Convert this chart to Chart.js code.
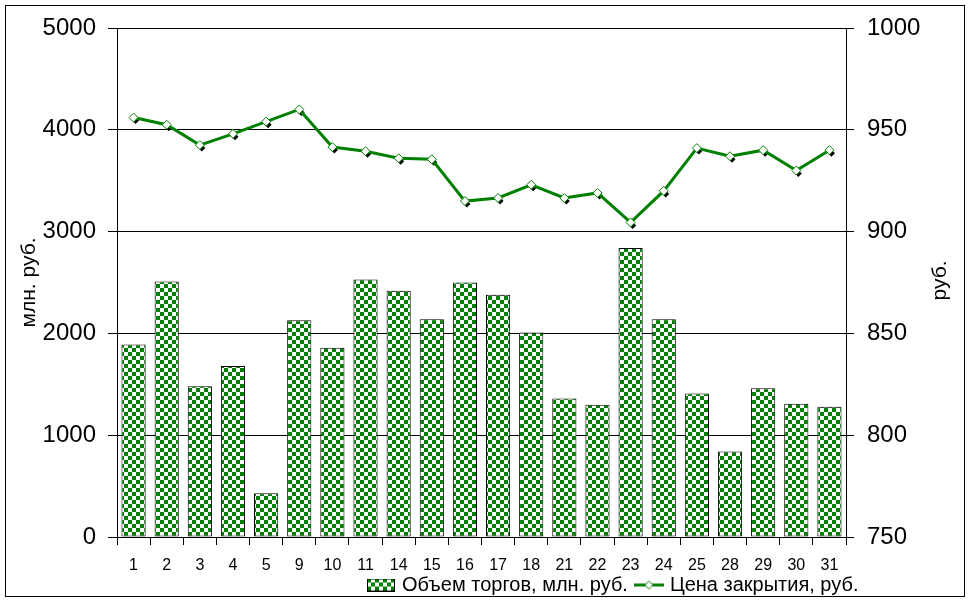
<!DOCTYPE html>
<html><head><meta charset="utf-8">
<script src="https://cdn.jsdelivr.net/npm/chart.js@4.4.1/dist/chart.umd.min.js"></script>
<style>html,body{margin:0;padding:0;background:#fff;} canvas{display:block;}</style>
</head><body><canvas id="c" width="970" height="602"></canvas>
<script>
const days = ['1','2','3','4','5','9','10','11','14','15','16','17','18','21','22','23','24','25','28','29','30','31'];
const volume = [1890,2510,1480,1680,430,2130,1860,2530,2420,2140,2500,2380,2010,1360,1300,2840,2140,1410,840,1460,1310,1280];
const closePrice = [956,952.5,942.5,948,954,960,941.5,939.5,936,935.5,915,916.5,923,916.5,919,904.5,920,941,937,940,930,940];
const volumeLabel = 'Объем торгов, млн. руб.';
const priceLabel = 'Цена закрытия, руб.';
const leftTitle = 'млн. руб.';
const rightTitle = 'руб.';

const GREEN = '#008000';
const FONT = "'Liberation Sans', Arial, sans-serif";

// checker pattern
const pc = document.createElement('canvas'); pc.width = 8; pc.height = 8;
const pctx = pc.getContext('2d');
pctx.fillStyle = '#fff'; pctx.fillRect(0,0,8,8);
pctx.fillStyle = GREEN; pctx.fillRect(0,0,4,4); pctx.fillRect(4,4,4,4);
const checker = document.getElementById('c').getContext('2d').createPattern(pc, 'repeat');

// legend icons
const barIcon = document.createElement('canvas'); barIcon.width = 28; barIcon.height = 13;
{ const g = barIcon.getContext('2d'); g.fillStyle = g.createPattern(pc,'repeat'); g.fillRect(0,0,28,13);
  g.strokeStyle = '#000'; g.lineWidth = 1; g.strokeRect(0.5,0.5,27,12); }
const lineIcon = document.createElement('canvas'); lineIcon.width = 30; lineIcon.height = 11;
{ const g = lineIcon.getContext('2d'); g.strokeStyle = GREEN; g.lineWidth = 3; g.beginPath(); g.moveTo(0,5.5); g.lineTo(30,5.5); g.stroke();
  g.lineWidth = 1; g.fillStyle = '#fff'; g.beginPath(); g.moveTo(15,1.5); g.lineTo(19,5.5); g.lineTo(15,9.5); g.lineTo(11,5.5); g.closePath(); g.fill(); g.stroke(); }

const framePlugin = {
  id: 'frame',
  beforeDraw(chart) {
    const ctx = chart.ctx; ctx.save();
    ctx.fillStyle = '#fff'; ctx.fillRect(0,0,chart.width,chart.height);
    ctx.strokeStyle = '#000'; ctx.lineWidth = 1; ctx.strokeRect(5.5,5.5,959,591);
    ctx.restore();
  },
  afterLayout(chart) {
    const lg = chart.legend; if (!lg) return;
    const w = lg.width;
    lg.left = 360; lg.right = 360 + w; lg.top = 565; lg.bottom = 565 + 40;
  },
  beforeDatasetDraw(chart, args) {
    if (chart.data.datasets[args.index].type !== 'line') return;
    const ctx = chart.ctx; ctx.save(); ctx.fillStyle = '#000';
    args.meta.data.forEach(p => {
      const x = p.x + 2, y = p.y + 3, r = 3.5;
      ctx.beginPath(); ctx.moveTo(x, y - r); ctx.lineTo(x + r, y); ctx.lineTo(x, y + r); ctx.lineTo(x - r, y); ctx.closePath(); ctx.fill();
    });
    ctx.restore();
  },
  afterDraw(chart) {
    const ca = chart.chartArea, ctx = chart.ctx;
    ctx.save();
    ctx.fillStyle = '#000'; ctx.font = '21px ' + FONT;
    ctx.textAlign = 'center'; ctx.textBaseline = 'middle';
    ctx.translate(940, (ca.top + ca.bottom) / 2 - 2);
    ctx.rotate(-Math.PI / 2);
    ctx.fillText(rightTitle, 0, 0);
    ctx.restore();
  }
};

Chart.defaults.font.family = FONT;
Chart.defaults.color = '#000';

new Chart(document.getElementById('c'), {
  data: {
    labels: days,
    datasets: [
      { type: 'bar', label: volumeLabel, data: volume, yAxisID: 'y', order: 2,
        backgroundColor: checker, borderColor: '#000', borderWidth: 1, borderSkipped: false,
        barPercentage: 0.73, categoryPercentage: 1 },
      { type: 'line', label: priceLabel, data: closePrice, yAxisID: 'y1', order: 1,
        borderColor: GREEN, borderWidth: 3, tension: 0,
        pointStyle: 'rectRot', pointRadius: 4.5, pointBorderWidth: 1,
        pointBackgroundColor: '#fff', pointBorderColor: GREEN }
    ]
  },
  options: {
    responsive: false, animation: false, devicePixelRatio: 1,
    layout: { padding: { left: 0, right: 0, top: 28, bottom: 27 } },
    plugins: {
      tooltip: { enabled: false },
      legend: {
        position: 'bottom', align: 'start', maxHeight: 1,
        labels: {
          font: { size: 20, family: FONT }, color: '#000', padding: 10,
          usePointStyle: true, pointStyleWidth: 22, boxHeight: 20,
          sort: (a, b) => a.datasetIndex - b.datasetIndex,
          generateLabels(chart) {
            const items = Chart.defaults.plugins.legend.labels.generateLabels(chart);
            items.forEach(it => { it.pointStyle = it.datasetIndex === 0 ? barIcon : lineIcon; });
            return items;
          }
        }
      }
    },
    scales: {
      x: {
        offset: true,
        grid: { offset: true, drawOnChartArea: false, color: '#000', tickLength: 8, lineWidth: 1 },
        border: { display: true, color: '#000' },
        ticks: { font: { size: 16 }, padding: 11, maxRotation: 0, autoSkip: false },
        afterFit(s) { s.height = 37; }
      },
      y: {
        position: 'left', min: 0, max: 5000,
        ticks: { stepSize: 1000, font: { size: 24 }, padding: 12, callback: v => String(v) },
        grid: { color: '#000', tickLength: 9, lineWidth: 1 },
        border: { display: true, color: '#000' },
        title: { display: true, text: leftTitle, font: { size: 21 }, padding: { top: 17, bottom: 0 } },
        afterFit(s) { s.width = 117; }
      },
      y1: {
        position: 'right', min: 750, max: 1000,
        ticks: { stepSize: 50, font: { size: 24 }, padding: 13, callback: v => String(v) },
        grid: { drawOnChartArea: false, color: '#000', tickLength: 8, lineWidth: 1 },
        border: { display: true, color: '#000' },
        afterFit(s) { s.width = 124; }
      }
    }
  },
  plugins: [framePlugin]
});
</script></body></html>
